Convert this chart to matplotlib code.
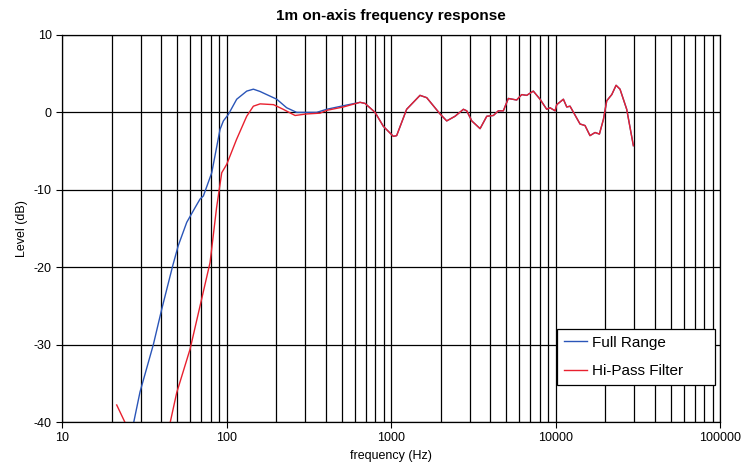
import matplotlib
matplotlib.use('Agg')
import matplotlib.pyplot as plt
from matplotlib.ticker import LogLocator, NullFormatter, FixedLocator

plt.rcParams['font.family'] = ['Liberation Sans', 'DejaVu Sans']
plt.rcParams['axes.unicode_minus'] = False

# shared response above ~650 Hz (both curves coincide there)
hf_freq = [695, 800, 898, 1033, 1082, 1244, 1500, 1648, 1986, 2180, 2449, 2754, 2886,
           3096, 3478, 3819, 4190, 4490, 4815, 5165, 5805, 6225, 6677, 7326, 8048,
           8838, 9260, 9935, 10170, 11160, 11700, 12250, 14090, 15110, 16200, 17390,
           18480, 19550, 20480, 21970, 23340, 24660, 27080, 29730]
hf_level = [1.16, 0.0, -1.8, -3.1, -3.0, 0.4, 2.2, 1.9, -0.2, -1.1, -0.5, 0.4, 0.2,
            -1.1, -2.1, -0.5, -0.4, 0.2, 0.2, 1.8, 1.6, 2.3, 2.2, 2.75, 1.7,
            0.4, 0.6, 0.2, 1.0, 1.7, 0.7, 0.8, -1.5, -1.7, -3.0, -2.6,
            -2.8, -0.9, 1.5, 2.3, 3.5, 3.0, 0.4, -4.3]

full_freq = [25, 27.3, 29.8, 35.9, 40.4, 47.1, 50.9, 57.3, 64.4, 69.0, 72.3, 81.3,
             91.3, 95.7, 102.6, 115.3, 132.7, 145.6, 160, 167.5, 202, 232, 267,
             353, 406, 538, 648]
full_level = [-45, -40, -36.1, -30, -25.4, -19.8, -17.2, -14.2, -12.3, -11.2, -10.8, -7.8,
              -2.2, -1.1, -0.26, 1.7, 2.75, 3.0, 2.7, 2.5, 1.7, 0.6, 0.0,
              0.0, 0.4, 0.95, 1.3]

hp_freq = [21.5, 24.2, 30, 40, 45.4, 49.8, 60, 70.6, 79.4, 87, 93.5, 100.3, 115,
           132.6, 145.6, 160, 193, 221, 261, 307, 370, 406, 513, 648]
hp_level = [-37.8, -40.1, -46, -46, -40.1, -36.2, -30.6, -24.1, -19.4, -12.3, -7.8, -6.7, -3.5,
            -0.5, 0.8, 1.1, 1.0, 0.4, -0.4, -0.2, -0.1, 0.26, 0.7, 1.3]

fig = plt.figure(figsize=(7.42, 4.69), dpi=100)
ax = fig.add_axes([0.0836, 0.1002, 0.8868, 0.8252])

ax.plot(full_freq + hf_freq, full_level + hf_level, color='#2a55b8', lw=1.0,
        label='Full Range')
ax.plot(hp_freq + hf_freq, hp_level + hf_level, color='#e8202e', lw=1.0,
        label='Hi-Pass Filter')

ax.set_xscale('log')
ax.set_xlim(10, 100000)
ax.set_ylim(-40, 10)
ax.yaxis.set_major_locator(FixedLocator([-40, -30, -20, -10, 0, 10]))
ax.xaxis.set_minor_locator(LogLocator(base=10, subs=range(2, 10), numticks=20))
ax.xaxis.set_minor_formatter(NullFormatter())
ax.set_xticks([10, 100, 1000, 10000, 100000])
ax.set_xticklabels(['10', '100', '1000', '10000', '100000'])

ax.grid(True, which='both', axis='x', color='black', lw=0.9)
ax.grid(True, which='major', axis='y', color='black', lw=0.9)
ax.set_axisbelow(True)
for s in ax.spines.values():
    s.set_color('black')
    s.set_linewidth(0.9)

ax.tick_params(axis='both', which='major', direction='out', length=4,
               labelsize=9, color='black')
ax.tick_params(axis='x', which='minor', length=0)

ax.set_title('1m on-axis frequency response', fontsize=11, fontweight='bold', pad=11)
ax.set_xlabel('frequency (Hz)', fontsize=9)
ax.set_ylabel('Level (dB)', fontsize=9)

# legend box spans a fixed region like the spreadsheet original
leg = ax.legend(loc='lower left', bbox_to_anchor=(0.752, 0.0956, 0.240, 0.147),
                mode='expand', fontsize=11, frameon=True, fancybox=False,
                edgecolor='black', framealpha=1, handlelength=1.5,
                handletextpad=0.35, borderpad=0.45, borderaxespad=0.0,
                labelspacing=0.95)
leg.get_frame().set_linewidth(0.9)

fig.savefig('out.png', dpi=100)
